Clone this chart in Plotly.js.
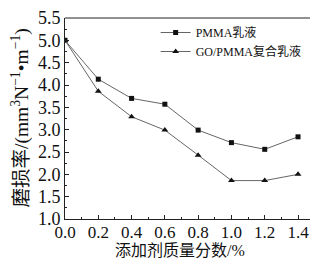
<!DOCTYPE html>
<html>
<head>
<meta charset="utf-8">
<script src="https://cdn.plot.ly/plotly-3.0.1.min.js"></script>
<style>html,body{margin:0;padding:0;background:#fff;}#chart{width:311px;height:260px;}</style>
</head>
<body>
<div id="chart"></div>
<script>
const additive = [0.0, 0.2, 0.4, 0.6, 0.8, 1.0, 1.2, 1.4];
const pmma = [5.0, 4.13, 3.70, 3.57, 2.99, 2.71, 2.56, 2.84];
const goPmma = [5.0, 3.86, 3.29, 2.99, 2.43, 1.86, 1.86, 2.0];
const seriesNames = ["PMMA乳液", "GO/PMMA复合乳液"];
const xTicks = [0.0, 0.2, 0.4, 0.6, 0.8, 1.0, 1.2, 1.4];
const xTickText = ["0.0", "0.2", "0.4", "0.6", "0.8", "1.0", "1.2", "1.4"];
const yTicks = [1.0, 1.5, 2.0, 2.5, 3.0, 3.5, 4.0, 4.5, 5.0, 5.5];
const yTickText = ["1.0", "1.5", "2.0", "2.5", "3.0", "3.5", "4.0", "4.5", "5.0", "5.5"];
const xTitle = '添加剂质量分数/%';
const yTitle = '磨损率/(mm<sup>3</sup>N<sup>−1</sup>•m<sup>−1</sup>)';

const FONT = '"Liberation Serif", "Noto Sans CJK SC", serif';

const traces = [
  {
    x: additive, y: pmma, name: seriesNames[0], type: 'scatter', mode: 'lines+markers',
    line: {color: '#666', width: 1},
    marker: {symbol: 'square', size: 5, color: '#111'}
  },
  {
    x: additive, y: goPmma, name: seriesNames[1], type: 'scatter', mode: 'lines+markers',
    line: {color: '#666', width: 1},
    marker: {symbol: 'triangle-up', size: 6, color: '#111'}
  }
];

const layout = {
  width: 311, height: 260,
  margin: {l: 65, r: 1, t: 18, b: 41, pad: 0},
  paper_bgcolor: '#fff', plot_bgcolor: '#fff',
  font: {family: FONT, color: '#111'},
  showlegend: true,
  legend: {
    x: 0.37, y: 1.0, xanchor: 'left', yanchor: 'top',
    bgcolor: 'rgba(0,0,0,0)', borderwidth: 0,
    font: {family: FONT, size: 12, color: '#111'},
    tracegroupgap: 0, itemwidth: 30
  },
  xaxis: {
    range: [0, 1.472], tickvals: xTicks, ticktext: xTickText,
    ticks: 'inside', ticklen: 4, tickwidth: 1, tickcolor: '#222',
    minor: {dtick: 0.1, ticks: 'inside', ticklen: 2, tickcolor: '#222'},
    showgrid: false, zeroline: false,
    showline: true, linecolor: '#222', linewidth: 1, mirror: false,
    tickfont: {family: FONT, size: 17, color: '#111'},
    ticklabelstandoff: -2,
    automargin: false
  },
  yaxis: {
    range: [1.0, 5.5], tickvals: yTicks, ticktext: yTickText,
    ticks: 'inside', ticklen: 4, tickwidth: 1, tickcolor: '#222',
    minor: {dtick: 0.25, ticks: 'inside', ticklen: 2, tickcolor: '#222'},
    showgrid: false, zeroline: false,
    showline: true, linecolor: '#222', linewidth: 1,
    tickfont: {family: FONT, size: 18, color: '#111'},
    automargin: false
  },
  annotations: [
    {text: xTitle, xref: 'paper', yref: 'paper', x: 0.47, y: 0, xanchor: 'center', yanchor: 'top',
     yshift: -22, borderpad: 0, showarrow: false, font: {family: FONT, size: 16, color: '#111'}},
    {text: yTitle, xref: 'paper', yref: 'paper', x: 0, y: 0.5, xanchor: 'center', yanchor: 'middle',
     xshift: -45, textangle: -90, showarrow: false, font: {family: FONT, size: 19.5, color: '#111'}}
  ],
  shapes: [
    {type: 'line', xref: 'paper', yref: 'paper', x0: 0, x1: 1, y0: 1, y1: 1, line: {color: '#222', width: 1}}
  ]
};

Plotly.newPlot('chart', traces, layout, {displayModeBar: false, staticPlot: true});
</script>
</body>
</html>
